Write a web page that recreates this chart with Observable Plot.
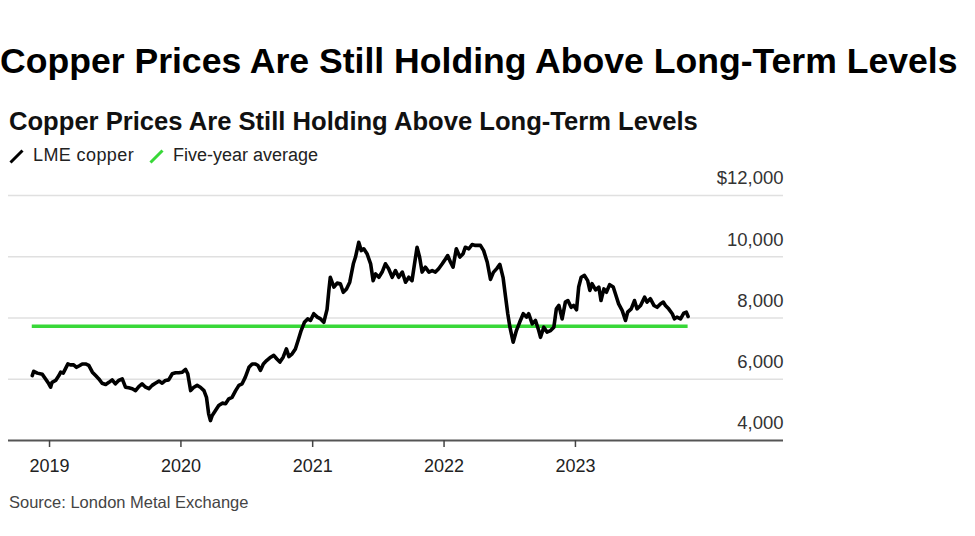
<!DOCTYPE html>
<html>
<head>
<meta charset="utf-8">
<script src="https://cdn.jsdelivr.net/npm/d3@7"></script>
<script src="https://cdn.jsdelivr.net/npm/@observablehq/plot@0.6"></script>
<style>
  body { margin: 0; background: #fff; font-family: "Liberation Sans", Arial, Helvetica, sans-serif; color: #111; }
  #page { position: relative; width: 975px; height: 536px; overflow: hidden; background: #fff; }
  .abs { position: absolute; white-space: nowrap; }
  #title { left: 0px; top: 41px; font-size: 35.6px; line-height: 40px; font-weight: bold; color: #000; }
  #subtitle { left: 9px; top: 106px; font-size: 25.6px; line-height: 30px; font-weight: bold; color: #111; }
  .leg { top: 144px; font-size: 18px; line-height: 22px; color: #222; }
  .sw { position: absolute; top: 148px; }
  #chart { position: absolute; left: 0; top: 170px; }
  #source { left: 9px; top: 492px; font-size: 16.5px; line-height: 20px; color: #444; }
</style>
</head>
<body>
<div id="page">
  <div id="title" class="abs">Copper Prices Are Still Holding Above Long-Term Levels</div>
  <div id="subtitle" class="abs">Copper Prices Are Still Holding Above Long-Term Levels</div>
  <svg class="sw" style="left:9px" width="16" height="16"><line x1="1.5" y1="14.5" x2="13.5" y2="2.5" stroke="#000" stroke-width="3"/></svg>
  <div class="abs leg" style="left:33px;letter-spacing:0.4px">LME copper</div>
  <svg class="sw" style="left:149px" width="16" height="16"><line x1="1.5" y1="14.5" x2="13.5" y2="2.5" stroke="#38d838" stroke-width="3"/></svg>
  <div class="abs leg" style="left:173px">Five-year average</div>
  <div id="chart"></div>
  <div id="source" class="abs">Source: London Metal Exchange</div>
</div>
<script>
// LME copper price, $ per metric ton
const dates = [
"2018-11-14","2018-11-18","2018-11-28","2018-12-12","2018-12-21","2018-12-30","2019-01-04","2019-01-08","2019-01-18","2019-01-27",
"2019-02-01","2019-02-08","2019-02-14","2019-02-21","2019-02-28","2019-03-09","2019-03-17","2019-03-26","2019-04-02","2019-04-11",
"2019-04-20","2019-04-30","2019-05-09","2019-05-18","2019-05-27","2019-06-06","2019-06-15","2019-06-24","2019-07-03","2019-07-12",
"2019-07-22","2019-07-31","2019-08-09","2019-08-19","2019-08-28","2019-09-06","2019-09-15","2019-09-25","2019-10-04","2019-10-13",
"2019-10-22","2019-11-01","2019-11-10","2019-11-19","2019-11-28","2019-12-08","2019-12-17","2019-12-26","2020-01-05","2020-01-14",
"2020-01-20","2020-01-28","2020-02-05","2020-02-15","2020-02-24","2020-03-05","2020-03-12","2020-03-18","2020-03-23","2020-03-28",
"2020-04-06","2020-04-15","2020-04-25","2020-05-04","2020-05-13","2020-05-22","2020-06-01","2020-06-10","2020-06-19","2020-06-28",
"2020-07-08","2020-07-17","2020-07-26","2020-08-02","2020-08-09","2020-08-17","2020-08-26","2020-09-04","2020-09-15","2020-09-23",
"2020-10-02","2020-10-11","2020-10-20","2020-10-27","2020-11-05","2020-11-14","2020-11-23","2020-11-30","2020-12-09","2020-12-18",
"2020-12-26","2021-01-04","2021-01-14","2021-01-23","2021-02-01","2021-02-10","2021-02-15","2021-02-19","2021-03-01","2021-03-10",
"2021-03-19","2021-03-27","2021-04-05","2021-04-14","2021-04-24","2021-04-30","2021-05-09","2021-05-16","2021-05-23","2021-06-01",
"2021-06-11","2021-06-18","2021-06-25","2021-07-04","2021-07-13","2021-07-22","2021-07-31","2021-08-10","2021-08-19","2021-08-28",
"2021-09-07","2021-09-16","2021-09-25","2021-10-04","2021-10-11","2021-10-18","2021-10-25","2021-11-01","2021-11-10","2021-11-20",
"2021-11-29","2021-12-08","2021-12-17","2021-12-27","2022-01-05","2022-01-11","2022-01-19","2022-01-26","2022-02-04","2022-02-14",
"2022-02-23","2022-03-01","2022-03-11","2022-03-20","2022-03-29","2022-04-12","2022-04-21","2022-05-01","2022-05-10","2022-05-18",
"2022-05-28","2022-06-05","2022-06-14","2022-06-21","2022-06-27","2022-07-03","2022-07-12","2022-07-21","2022-07-30","2022-08-09",
"2022-08-18","2022-08-24","2022-09-03","2022-09-12","2022-09-21","2022-09-26","2022-10-05","2022-10-14","2022-10-24","2022-11-02",
"2022-11-09","2022-11-16","2022-11-25","2022-12-04","2022-12-11","2022-12-20","2022-12-27","2023-01-04","2023-01-10","2023-01-17",
"2023-01-26","2023-02-04","2023-02-10","2023-02-16","2023-02-26","2023-03-07","2023-03-13","2023-03-21","2023-03-28","2023-04-06",
"2023-04-16","2023-04-22","2023-05-01","2023-05-11","2023-05-20","2023-05-26","2023-06-05","2023-06-14","2023-06-21","2023-07-01",
"2023-07-12","2023-07-19","2023-07-28","2023-08-07","2023-08-16","2023-08-25","2023-09-02","2023-09-08","2023-09-17","2023-09-27",
"2023-10-03","2023-10-10","2023-10-20","2023-10-29","2023-11-05","2023-11-10"
];
const prices = [
6120,6260,6200,6160,6010,5850,5740,5900,5960,6120,
6230,6200,6340,6500,6470,6470,6390,6450,6500,6500,
6450,6230,6120,6010,5870,5830,5900,5980,5850,5960,
6010,5740,5720,5690,5630,5760,5850,5740,5690,5800,
5870,5940,5870,5960,5980,6180,6210,6210,6230,6320,
6180,5630,5730,5800,5740,5630,5410,4870,4650,4820,
4980,5140,5220,5200,5360,5410,5630,5800,5850,6070,
6390,6500,6500,6450,6290,6500,6610,6700,6780,6670,
6560,6720,6990,6740,6830,6990,7320,7590,7860,7970,
7920,8140,8030,7970,7860,8280,8900,9330,9010,9140,
9120,8840,8950,9170,9770,9990,10470,10200,10260,10100,
9770,9220,9440,9330,9500,9770,9610,9330,9550,9330,
9500,9170,9330,9220,9770,10310,9990,9500,9660,9500,
9550,9500,9610,9770,9930,10040,9820,9660,10260,9990,
10100,10310,10260,10400,10370,10370,10200,9820,9260,9490,
9620,9750,9320,8680,8140,7700,7210,7590,7860,8140,
8030,8140,7810,7920,7590,7370,7700,7540,7590,7700,
8300,8410,7970,8520,8570,8350,8410,8270,9010,9330,
9390,9220,8900,9120,8920,9010,8570,8950,8840,9090,
9010,8790,8460,8240,7920,8190,8300,8570,8300,8410,
8680,8520,8630,8410,8350,8460,8520,8410,8300,8140,
7970,8030,7970,8160,8190,8050
];
// Five-year average
const averageValue = 7730;
// Axes
const yTicks = [4000, 6000, 8000, 10000, 12000];
const xTicks = ["2019-01-01", "2020-01-01", "2021-01-01", "2022-01-01", "2023-01-01"];
const xDomain = ["2018-09-09", "2024-08-01"];

const series = dates.map((d, i) => ({date: new Date(d), price: prices[i]}));
const avgLine = [{start: new Date(dates[0]), end: new Date(dates[dates.length - 1]), value: averageValue}];
const fmt = d3.format(",");

const chart = Plot.plot({
  width: 975,
  height: 320,
  marginTop: 25,
  marginBottom: 50,
  marginLeft: 8,
  marginRight: 192,
  style: {fontFamily: "'Liberation Sans', Arial, Helvetica, sans-serif", fontSize: "18px", color: "#222", background: "#fff", overflow: "visible"},
  x: {type: "utc", domain: xDomain.map(d => new Date(d))},
  y: {domain: [yTicks[0], yTicks[yTicks.length - 1]]},
  marks: [
    Plot.ruleY(yTicks.slice(1), {stroke: "#e0e0e0", strokeWidth: 1.5}),
    Plot.axisY(yTicks, {
      anchor: "right", tickSize: 0, tickPadding: 0, textAnchor: "end", dx: 0, dy: -17,
      fill: "#333", label: null, fontSize: 18.5,
      tickFormat: d => (d === yTicks[yTicks.length - 1] ? "$" : "") + fmt(d)
    }),
    Plot.ruleY(avgLine, {x1: "start", x2: "end", y: "value", stroke: "#38d838", strokeWidth: 3.5}),
    Plot.line(series, {x: "date", y: "price", stroke: "#000", strokeWidth: 3.6, strokeLinejoin: "round", strokeLinecap: "round"}),
    Plot.ruleY([yTicks[0]], {stroke: "#555", strokeWidth: 2}),
    Plot.axisX(xTicks.map(d => new Date(d)), {
      tickSize: 7, tickPadding: 12, stroke: "#444", strokeWidth: 1.5, fill: "#222", label: null,
      tickFormat: d3.utcFormat("%Y")
    })
  ]
});
document.getElementById("chart").appendChild(chart);
</script>
</body>
</html>
